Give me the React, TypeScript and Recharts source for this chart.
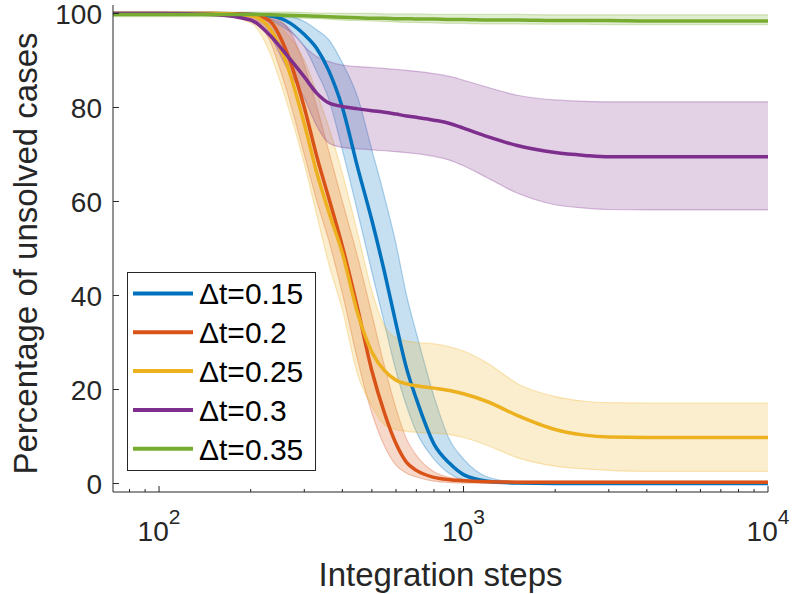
import React from 'react';
import { ComposedChart, Area, Line, XAxis, YAxis, Legend } from 'recharts';

// integration steps (log x axis)
const steps = [70, 100, 150, 200, 230, 260, 300, 330, 360, 400, 450, 500, 550, 600, 650, 700, 800, 900, 1000, 1200, 1500, 2000, 2500, 3000, 4000, 5000, 7000, 10000];

// dt = 0.15
const dt015 = [100, 100, 100, 99.8, 99.5, 98.5, 95.5, 92.5, 88, 80, 67, 56, 45, 34, 24.5, 18, 8.4, 4.3, 1.9, 0.5, 0.1, 0, 0, 0, 0, 0, 0, 0];
const dt015Lo = [100, 100, 100, 99.6, 98.7, 96.8, 93, 87.5, 82, 71, 57.5, 45, 34, 24, 16.5, 11, 5.2, 2.1, 0.8, 0.1, 0, 0, 0, 0, 0, 0, 0, 0];
const dt015Hi = [100, 100, 100, 100, 100, 99.6, 98.3, 96.5, 94.5, 89.5, 82, 71, 61, 51, 40, 32, 18.5, 9.3, 5.2, 1.4, 0.3, 0.1, 0.1, 0.1, 0.1, 0.1, 0.1, 0.1];

// dt = 0.2
const dt02 = [100, 100, 100, 99.8, 98.5, 92.5, 80, 69.5, 61, 50.5, 37, 24, 15, 8.5, 4.5, 2.8, 1.3, 0.8, 0.6, 0.4, 0.3, 0.3, 0.3, 0.3, 0.3, 0.3, 0.3, 0.3];
const dt02Lo = [100, 100, 100, 99.2, 94.5, 84.5, 70, 60, 52, 40.5, 26, 15, 8, 3.9, 2.2, 1.4, 0.5, 0.2, 0.1, 0.1, 0.1, 0.1, 0.1, 0.1, 0.1, 0.1, 0.1, 0.1];
const dt02Hi = [100, 100, 100, 100, 99.5, 97.5, 89, 80, 71, 60, 48, 36, 25, 16, 9.5, 6, 2.5, 1.3, 0.9, 0.6, 0.5, 0.5, 0.5, 0.5, 0.5, 0.5, 0.5, 0.5];

// dt = 0.25
const dt025 = [100, 100, 100, 99.5, 97, 90, 76.5, 66, 58, 49, 36, 28, 24, 22, 21.2, 20.8, 20.3, 19.8, 19.1, 17.4, 14.5, 11.5, 10.3, 9.9, 9.8, 9.8, 9.8, 9.8];
const dt025Lo = [100, 100, 99.8, 98, 92, 82, 68, 57, 47, 37, 23, 16.5, 12.5, 11.5, 11.1, 10.9, 10.7, 10.4, 9.8, 8.1, 5.5, 3.7, 3.1, 2.8, 2.6, 2.6, 2.6, 2.6];
const dt025Hi = [100, 100, 100, 100, 99, 96, 90, 83, 76, 66, 53, 41, 33.5, 31, 30.3, 30, 29.7, 29.1, 28.2, 25.6, 21.3, 18.5, 17.5, 17.2, 17.1, 17.1, 17.1, 17.1];

// dt = 0.3
const dt03 = [100, 100, 99.8, 98.6, 95.5, 91.5, 86.5, 83, 81, 80.2, 79.7, 79.3, 79, 78.6, 78.2, 77.9, 77.3, 76.6, 75.6, 73.8, 71.9, 70.4, 69.8, 69.5, 69.5, 69.5, 69.5, 69.5];
const dt03Lo = [100, 100, 99.8, 98.5, 95.5, 89, 82, 76, 72.5, 71.5, 71.2, 71, 70.8, 70.6, 70.4, 70.2, 69.6, 68.8, 67.6, 65, 61.8, 59.3, 58.6, 58.3, 58.2, 58.2, 58.2, 58.2];
const dt03Hi = [100, 100, 100, 100, 99, 97.5, 93, 90.8, 89.8, 89, 88.7, 88.5, 88.3, 88.1, 87.9, 87.7, 87.2, 86.6, 85.8, 84.3, 82.6, 81.6, 81.3, 81.2, 81.2, 81.2, 81.2, 81.2];

// dt = 0.35
const dt035 = [99.8, 99.8, 99.8, 99.8, 99.7, 99.6, 99.5, 99.4, 99.3, 99.2, 99.1, 99, 99, 98.9, 98.9, 98.8, 98.8, 98.7, 98.7, 98.6, 98.6, 98.5, 98.5, 98.5, 98.4, 98.4, 98.4, 98.4];
const dt035Lo = [99.3, 99.3, 99.3, 99.3, 99.2, 99.1, 99, 98.9, 98.8, 98.6, 98.5, 98.4, 98.3, 98.2, 98.1, 98.1, 98, 97.9, 97.9, 97.8, 97.8, 97.7, 97.7, 97.6, 97.6, 97.6, 97.6, 97.6];
const dt035Hi = [100.3, 100.3, 100.3, 100.3, 100.3, 100.3, 100.2, 100.1, 100.1, 100, 100, 100, 99.9, 99.9, 99.9, 99.9, 99.8, 99.8, 99.8, 99.8, 99.8, 99.7, 99.7, 99.7, 99.7, 99.7, 99.7, 99.7];

const xMajor = [100, 1000, 10000];
const xMinor = [80, 90, 200, 300, 400, 500, 600, 700, 800, 900, 2000, 3000, 4000, 5000, 6000, 7000, 8000, 9000];
const yTicks = [0, 20, 40, 60, 80, 100];

const series = [
  { name: 'Δt=0.15', color: '#0072BD', mid: dt015, lo: dt015Lo, hi: dt015Hi },
  { name: 'Δt=0.2', color: '#D95319', mid: dt02, lo: dt02Lo, hi: dt02Hi },
  { name: 'Δt=0.25', color: '#EDB120', mid: dt025, lo: dt025Lo, hi: dt025Hi },
  { name: 'Δt=0.3', color: '#7E2F8E', mid: dt03, lo: dt03Lo, hi: dt03Hi },
  { name: 'Δt=0.35', color: '#77AC30', mid: dt035, lo: dt035Lo, hi: dt035Hi },
];

const data = steps.map((step, i) => {
  const row: Record<string, any> = { step };
  series.forEach((s, k) => {
    row[`m${k}`] = s.mid[i];
    row[`b${k}`] = [s.lo[i], s.hi[i]];
  });
  return row;
});

const INK = '#262626';
const FONT = '"Liberation Sans", Arial, Helvetica, sans-serif';
const allXTicks = [...xMinor, ...xMajor].sort((a, b) => a - b);

const BottomTick = ({ x, y, payload }: any) => {
  const major = xMajor.includes(payload.value);
  const exp = Math.round(Math.log10(payload.value));
  return (
    <g>
      <line x1={x} x2={x} y1={y} y2={y - (major ? 6 : 3)} stroke={INK} strokeWidth={1} />
      {major && (
        <text x={x} y={y + 49} textAnchor="middle" fill={INK} fontSize={28} fontFamily={FONT}>
          10<tspan dy={-17} fontSize={21}>{exp}</tspan>
        </text>
      )}
    </g>
  );
};

const TopTick = ({ x, y, payload }: any) => {
  const major = xMajor.includes(payload.value);
  return <line x1={x} x2={x} y1={y} y2={y + (major ? 6 : 3)} stroke={INK} strokeWidth={1} />;
};

const LeftTick = ({ x, y, payload }: any) => (
  <g>
    <line x1={x} x2={x + 6} y1={y} y2={y} stroke={INK} strokeWidth={1} />
    <text x={x - 11} y={y} dy="0.36em" textAnchor="end" fill={INK} fontSize={28} fontFamily={FONT}>
      {payload.value}
    </text>
  </g>
);

const RightTick = ({ x, y }: any) => <line x1={x} x2={x - 6} y1={y} y2={y} stroke={INK} strokeWidth={1} />;

const LegendBox = () => (
  <svg width={189} height={199} style={{ display: 'block' }}>
    <rect x={0.5} y={0.5} width={188} height={198} fill="#ffffff" stroke={INK} strokeWidth={1} />
    {series.map((s, i) => {
      const cy = 21.5 + i * 38.8;
      return (
        <g key={s.name}>
          <line x1={6} x2={66} y1={cy} y2={cy} stroke={s.color} strokeWidth={4} />
          <text x={72} y={cy} dy="0.36em" fill="#000" fontSize={30} fontFamily={FONT}>
            {s.name}
          </text>
        </g>
      );
    })}
  </svg>
);

export default function App() {
  return (
    <div style={{ position: 'absolute', left: 0, top: 0, width: 795, height: 594, background: '#fff' }}>
      <ComposedChart width={795} height={594} data={data} margin={{ top: 5, right: 27, bottom: 0, left: 0 }}>
        <XAxis
          dataKey="step"
          type="number"
          scale="log"
          domain={[70.6, 10000]}
          allowDataOverflow
          ticks={allXTicks}
          interval={0}
          tick={<BottomTick />}
          tickSize={0}
          tickMargin={0}
          tickLine={false}
          height={102}
          axisLine={{ stroke: INK }}
          label={({ viewBox }: any) => (
            <text
              x={viewBox.x + viewBox.width / 2}
              y={viewBox.y + 94}
              textAnchor="middle"
              fill={INK}
              fontSize={33}
              fontFamily={FONT}
            >
              Integration steps
            </text>
          )}
        />
        <XAxis
          xAxisId="top"
          orientation="top"
          dataKey="step"
          type="number"
          scale="log"
          domain={[70.6, 10000]}
          allowDataOverflow
          ticks={allXTicks}
          interval={0}
          tick={<TopTick />}
          tickSize={0}
          tickMargin={0}
          tickLine={false}
          height={0}
          axisLine={{ stroke: INK }}
        />
        <YAxis
          type="number"
          domain={[-1.8, 101.8]}
          allowDataOverflow
          ticks={yTicks}
          interval={0}
          tick={<LeftTick />}
          tickSize={0}
          tickMargin={0}
          tickLine={false}
          width={113}
          axisLine={{ stroke: INK }}
          label={({ viewBox }: any) => (
            <text
              transform={`translate(${viewBox.x + 37}, ${viewBox.y + viewBox.height / 2 + 5}) rotate(-90)`}
              textAnchor="middle"
              fill={INK}
              fontSize={33}
              fontFamily={FONT}
            >
              Percentage of unsolved cases
            </text>
          )}
        />
        <YAxis
          yAxisId="right"
          orientation="right"
          type="number"
          domain={[-1.8, 101.8]}
          allowDataOverflow
          ticks={yTicks}
          interval={0}
          tick={<RightTick />}
          tickSize={0}
          tickMargin={0}
          tickLine={false}
          width={0}
          axisLine={{ stroke: INK }}
        />
        {series.map((s, k) => [
          <Area
            key={`band${k}`}
            dataKey={`b${k}`}
            type="monotone"
            stroke={s.color}
            strokeOpacity={0.3}
            strokeWidth={1.2}
            fill={s.color}
            fillOpacity={0.22}
            legendType="none"
            dot={false}
            activeDot={false}
            isAnimationActive={false}
          />,
          <Line
            key={`line${k}`}
            dataKey={`m${k}`}
            name={s.name}
            type="monotone"
            stroke={s.color}
            strokeWidth={3.5}
            dot={false}
            activeDot={false}
            isAnimationActive={false}
          />,
        ])}
        <Legend
          layout="vertical"
          align="center"
          verticalAlign="middle"
          content={() => <LegendBox />}
          wrapperStyle={{ position: 'absolute', left: 127, top: 272, width: 189, height: 199 }}
        />
      </ComposedChart>
    </div>
  );
}
